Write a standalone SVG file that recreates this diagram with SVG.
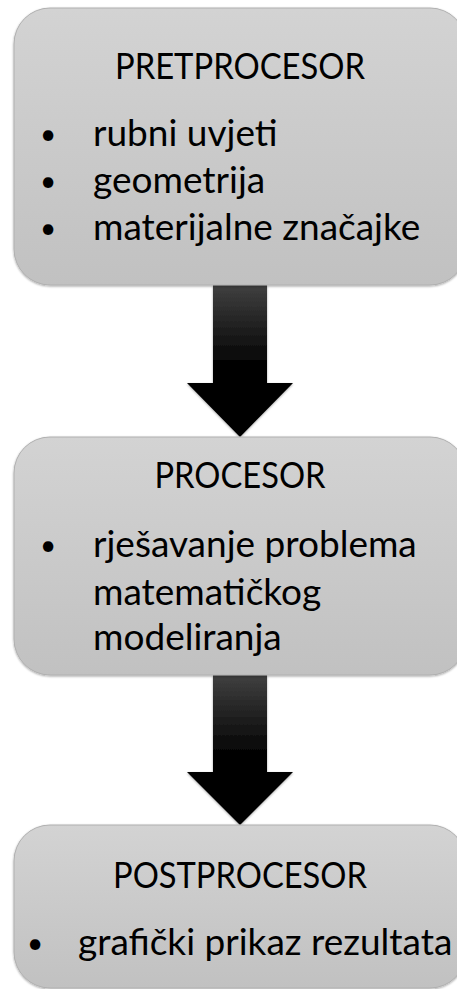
<svg xmlns="http://www.w3.org/2000/svg" width="457" height="989" viewBox="0 0 457 989">
<defs>
<linearGradient id="boxg" x1="0" y1="0" x2="0" y2="1">
<stop offset="0" stop-color="#d3d3d3"/>
<stop offset="1" stop-color="#c1c1c1"/>
</linearGradient>
<linearGradient id="arrg" x1="0" y1="0" x2="0" y2="1">
<stop offset="0" stop-color="#404040"/>
<stop offset="0.55" stop-color="#000000"/>
<stop offset="1" stop-color="#000000"/>
</linearGradient>
<filter id="sh" x="-10%" y="-10%" width="120%" height="120%">
<feDropShadow dx="0" dy="1" stdDeviation="1.2" flood-color="#000" flood-opacity="0.35"/>
</filter>
</defs>
<style>
.box{fill:url(#boxg);stroke:#b0b0b0;stroke-width:1;filter:url(#sh)}
.arr{fill:url(#arrg);filter:url(#sh)}
text{font-family:Lato,"Open Sans","Liberation Sans",sans-serif;font-size:37px;fill:#000}
.t{text-anchor:middle}
.b{text-anchor:middle;font-size:28px}
</style>
<g id="connectors">
<path class="arr" d="M213,285 L267,285 L267,383 L293,383 L240,437 L187,383 L213,383 Z"/>
<path class="arr" d="M213,675 L267,675 L267,772 L293,772 L240,825 L187,772 L213,772 Z"/>
</g>
<g id="pretprocesor">
<rect class="box" x="14" y="8" width="452" height="277" rx="36" ry="36"/>
<text class="t" x="240" y="79" textLength="250" lengthAdjust="spacingAndGlyphs">PRETPROCESOR</text>
<text class="b" x="48" y="144">•</text><text x="93" y="146">rubni uvjeti</text>
<text class="b" x="48" y="191">•</text><text x="93" y="193">geometrija</text>
<text class="b" x="48" y="238">•</text><text x="93" y="240">materijalne značajke</text>
</g>
<g id="procesor">
<rect class="box" x="14" y="437" width="452" height="238" rx="36" ry="36"/>
<text class="t" x="240" y="488" textLength="171" lengthAdjust="spacingAndGlyphs">PROCESOR</text>
<text class="b" x="48" y="555">•</text><text x="93" y="557">rješavanje problema</text>
<text x="93" y="605">matematičkog</text>
<text x="93" y="650">modeliranja</text>
</g>
<g id="postprocesor">
<rect class="box" x="14" y="825" width="452" height="163" rx="36" ry="36"/>
<text class="t" x="240" y="888" textLength="254" lengthAdjust="spacingAndGlyphs">POSTPROCESOR</text>
<text class="b" x="35" y="953">•</text><text x="78" y="955">grafički prikaz rezultata</text>
</g>
</svg>
